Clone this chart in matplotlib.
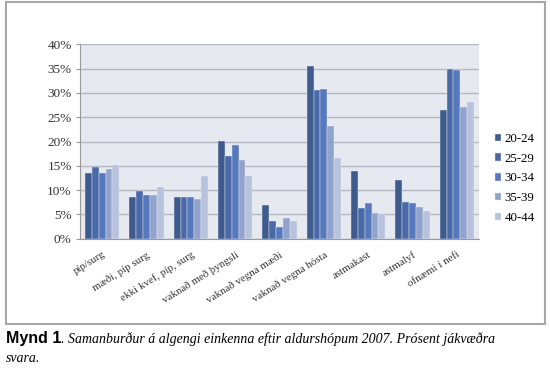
import matplotlib
matplotlib.use('Agg')
import matplotlib.pyplot as plt
import numpy as np
from matplotlib.patches import Rectangle

# Gögn lesin af myndinni
flokkar = ['píp/surg', 'mæði, píp surg', 'ekki kvef, píp, surg', 'vaknað með þyngsli',
           'vaknað vegna mæði', 'vaknað vegna hósta', 'astmakast', 'astmalyf', 'ofnæmi í nefi']
aldur = ['20-24', '25-29', '30-34', '35-39', '40-44']
g20_24 = [13.6, 8.5, 8.5, 20.2, 6.9, 35.6, 13.9, 12.1, 26.5]
g25_29 = [14.8, 9.8, 8.6, 17.0, 3.7, 30.6, 6.4, 7.5, 34.9]
g30_34 = [13.5, 9.0, 8.6, 19.2, 2.5, 30.9, 7.3, 7.3, 34.7]
g35_39 = [14.4, 8.9, 8.1, 16.1, 4.3, 23.1, 5.2, 6.5, 27.2]
g40_44 = [15.1, 10.7, 12.8, 12.8, 3.6, 16.7, 5.0, 5.8, 28.1]
raðir = [g20_24, g25_29, g30_34, g35_39, g40_44]
litir = ['#3f5b8e', '#4a69a8', '#5679bd', '#91a2cc', '#b7c2dc']

plt.rcParams['font.family'] = ['Liberation Serif', 'DejaVu Serif']

fig = plt.figure(figsize=(5.5, 3.78), dpi=100)
ax = fig.add_axes([0.1455, 0.3685, 0.7255, 0.5143])
ax.set_facecolor('#e7e9f1')

x = np.arange(len(flokkar))
breidd = 0.154
for i, (rod, lit) in enumerate(zip(raðir, litir)):
    ax.bar(x + (i - 2) * breidd, rod, breidd, color=lit, label=aldur[i],
           edgecolor='#e7e9f1', linewidth=0.3, zorder=3)

ax.set_xlim(-0.5, len(flokkar) - 0.5)
ax.set_ylim(0, 40)
ax.set_yticks(range(0, 41, 5))
ax.set_yticklabels([f'{v}%' for v in range(0, 41, 5)], fontsize=9.5, color='#333333')
ax.yaxis.grid(True, color='#b5b7c0', linewidth=1.0, zorder=0)
ax.set_axisbelow(True)
ax.tick_params(axis='y', length=3, color='#999999', pad=3)
ax.tick_params(axis='x', length=0, pad=8)
ax.set_xticks(x)
ax.set_xticklabels(flokkar, rotation=32, ha='right', rotation_mode='anchor',
                   fontsize=7.8, color='#333333')
for s in ['top', 'right']:
    ax.spines[s].set_visible(False)
ax.spines['left'].set_color('#999999')
ax.spines['bottom'].set_color('#999999')

ax.legend(loc='center left', bbox_to_anchor=(1.01, 0.31), frameon=False, fontsize=9.3,
          handlelength=0.5, handleheight=0.5, handletextpad=0.25, labelspacing=0.6)

# Rammi utan um myndina
fig.patches.append(Rectangle((6 / 550, 1 - 324 / 378), 539 / 550, 322 / 378,
                             transform=fig.transFigure, fill=False,
                             edgecolor='#a8a8a8', linewidth=1.5))

# Myndatexti
t1 = fig.text(6 / 550, 1 - 343 / 378, 'Mynd 1', family='Liberation Sans',
              weight='bold', fontsize=11.5, va='baseline')
fig.canvas.draw()
bb = t1.get_window_extent()
fig.text(bb.x1 / 550, 1 - 343 / 378,
         '. Samanburður á algengi einkenna eftir aldurshópum 2007. Prósent jákvæðra',
         style='italic', fontsize=10, va='baseline')
fig.text(6 / 550, 1 - 362 / 378, 'svara.', style='italic', fontsize=10, va='baseline')

fig.savefig('out.png', dpi=100)
